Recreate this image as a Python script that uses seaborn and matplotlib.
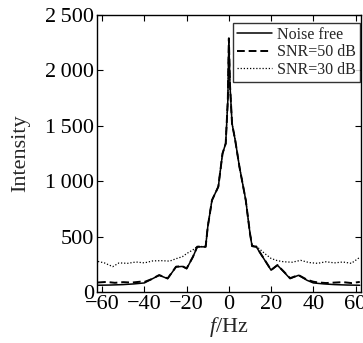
import numpy as np
import pandas as pd
import seaborn as sns
import matplotlib.pyplot as plt

sns.set_theme(style="ticks")
plt.rcParams['font.family'] = ['Liberation Serif', 'DejaVu Serif']
plt.rcParams['mathtext.fontset'] = 'custom'
plt.rcParams['mathtext.it'] = 'Liberation Serif:italic'
plt.rcParams['mathtext.rm'] = 'Liberation Serif'

# frequency (Hz) and intensity
f_clean = [-62, -56, -50, -45, -40, -37, -33, -29, -25, -22, -20, -17, -15, -11, -10, -8, -5,
           -3, -1.5, -0.5, 0, 0.5, 1.5, 3, 5, 8, 10, 11, 13, 15, 18, 20, 23, 26, 29, 33,
           37, 40, 45, 50, 56, 62]
i_clean = [60, 62, 66, 72, 81, 111, 150, 120, 226, 230, 210, 316, 407, 407, 587, 828, 950,
           1250, 1340, 1730, 2290, 1880, 1520, 1370, 1130, 828, 527, 412, 407, 346, 256, 196, 241, 181, 120, 150,
           105, 81, 72, 66, 62, 60]

f_50 = [-62, -58, -54, -50, -46, -42, -40, -37, -33, -29, -25, -22, -20, -17, -15, -11, -10, -8, -5,
        -3, -1.5, -0.5, 0, 0.5, 1.5, 3, 5, 8, 10, 11, 13, 15, 18, 20, 23, 26, 29, 33,
        37, 40, 42, 46, 50, 54, 58, 62]
i_50 = [85, 90, 82, 88, 84, 92, 90, 112, 152, 122, 228, 232, 212, 318, 408, 408, 588, 828, 950,
        1250, 1340, 1730, 2290, 1880, 1520, 1370, 1130, 828, 528, 414, 408, 348, 258, 198, 242, 184, 124, 152,
        110, 92, 86, 80, 84, 88, 80, 90]

f_30 = [-62, -59, -55, -52, -48, -44, -40, -36, -32, -28, -25, -22, -20, -17, -15, -11, -10, -8, -5,
        -3, -1.5, -0.5, 0, 0.5, 1.5, 3, 5, 8, 10, 11, 13, 15, 17, 20, 23, 26, 30, 34,
        38, 42, 46, 50, 54, 58, 62]
i_30 = [275, 262, 228, 262, 258, 270, 262, 280, 282, 278, 300, 318, 346, 380, 410, 410, 590, 830, 952,
        1252, 1342, 1732, 2290, 1882, 1522, 1372, 1132, 830, 530, 418, 412, 380, 346, 302, 282, 272, 268, 285,
        265, 258, 272, 262, 270, 258, 312]

legend_labels = ["Noise free", "SNR=50 dB", "SNR=30 dB"]
x_ticks = [-60, -40, -20, 0, 20, 40, 60]
y_ticks = [0, 500, 1000, 1500, 2000, 2500]
y_labels = ["0", "500", "1\u2009000", "1\u2009500", "2\u2009000", "2\u2009500"]

fig = plt.figure(figsize=(3.63, 3.43), dpi=100)
ax = fig.add_axes([0.267, 0.149, 0.727, 0.807])

sns.lineplot(x=f_30, y=i_30, ax=ax, color="black", lw=0.9, linestyle=(0, (1, 1.5)), label=legend_labels[2])
sns.lineplot(x=f_50, y=i_50, ax=ax, color="black", lw=1.4, linestyle=(0, (4, 2)), label=legend_labels[1])
sns.lineplot(x=f_clean, y=i_clean, ax=ax, color="black", lw=1.1, label=legend_labels[0])

ax.set_xlim(-62.5, 62.5)
ax.set_ylim(0, 2500)
ax.set_xticks(x_ticks)
ax.set_xticklabels([str(t).replace("-", "\u2212") for t in x_ticks])
ax.set_yticks(y_ticks)
ax.set_yticklabels(y_labels)
ax.tick_params(direction="in", top=True, right=True, labelsize=16, length=4, width=0.8, pad=2, colors="black")
for s in ax.spines.values():
    s.set_linewidth(1.0)
    s.set_color("black")
ax.set_xlabel(r"$\it{f}$/Hz", fontsize=16, labelpad=1)
ax.set_ylabel("Intensity", fontsize=16, labelpad=11)

h, l = ax.get_legend_handles_labels()
leg = ax.legend(h[::-1], l[::-1], loc="upper right", bbox_to_anchor=(1.0, 0.975), fontsize=11.5,
                frameon=True, fancybox=False, borderaxespad=0.05, borderpad=0.25,
                handlelength=2.2, handletextpad=0.3, labelspacing=0.1)
leg.get_frame().set_edgecolor("black")
leg.get_frame().set_linewidth(1.0)

fig.savefig("out.png", dpi=100)
